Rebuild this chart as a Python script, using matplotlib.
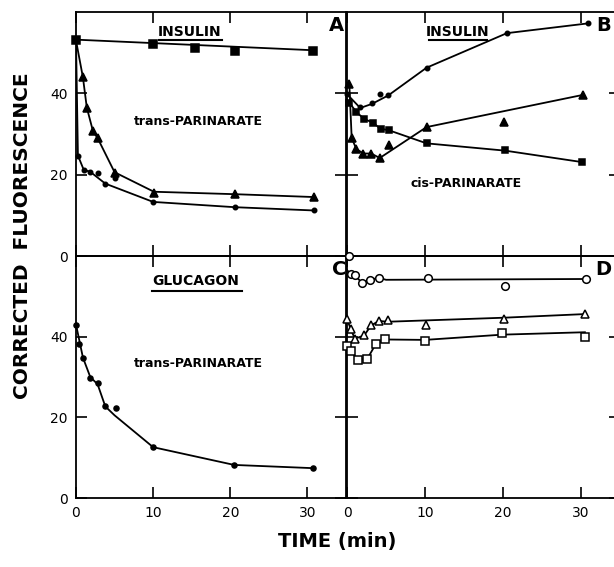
import matplotlib
matplotlib.use("Agg")
from matplotlib import pyplot as plt

plt.rcParams['font.family'] = ['DejaVu Sans']

# panel A: insulin, trans-parinarate
a_sq_t = [0, 10, 15.4, 20.6, 30.7]
a_sq_v = [53, 52.1, 51.1, 50.3, 50.4]
a_sq_line_t = [0, 30.7]
a_sq_line_v = [53.2, 50.6]

a_tri_t = [0.9, 1.4, 2.2, 2.8, 5.0, 10.1, 20.6, 30.8]
a_tri_v = [43.9, 36.5, 30.7, 29.0, 20.4, 15.6, 15.2, 14.5]
a_tri_line_t = [0, 0.9, 1.4, 2.2, 2.8, 5.0, 10.1, 20.6, 30.8]
a_tri_line_v = [53, 43.9, 36.5, 30.7, 29.0, 20.6, 15.8, 15.2, 14.5]

a_dot_t = [0.25, 1.0, 1.85, 2.9, 3.8, 5.0, 10, 20.6, 30.8]
a_dot_v = [24.7, 21.2, 20.7, 20.4, 17.8, 19.3, 13.3, 12.0, 11.2]
a_dot_line_t = [0, 0.25, 1.0, 1.85, 3.8, 10, 20.6, 30.8]
a_dot_line_v = [53, 24.7, 21.2, 20.7, 17.8, 13.3, 12.0, 11.2]

# panel B: insulin, cis-parinarate
b_dot_t = [0, 1.7, 3.2, 4.2, 5.3, 10.2, 20.5, 30.9]
b_dot_v = [39.8, 36.7, 37.7, 39.9, 39.5, 46.3, 54.8, 57.2]
b_dot_line_t = [0, 1.7, 3.2, 5.3, 10.2, 20.5, 30.9]
b_dot_line_v = [39.8, 36.4, 37.4, 39.5, 46.3, 54.8, 57.2]

b_sq_t = [0.2, 1.2, 2.2, 3.3, 4.3, 5.4, 10.2, 20.3, 30.1]
b_sq_v = [37.7, 35.4, 33.7, 32.8, 31.3, 30.9, 27.7, 26.0, 23.1]
b_sq_line_t = [0, 1.2, 2.2, 3.3, 4.3, 5.4, 10.2, 20.3, 30.1]
b_sq_line_v = [38.5, 35.4, 33.7, 32.8, 31.3, 30.9, 27.7, 25.9, 23.1]

b_tri_t = [0.3, 0.6, 1.2, 2.1, 3.1, 4.2, 5.4, 10.2, 20.1, 30.2]
b_tri_v = [42.2, 29.0, 26.3, 25.2, 25.2, 24.1, 27.2, 31.7, 32.9, 39.6]
b_tri_line_t = [0.3, 0.6, 1.2, 2.1, 3.1, 4.2, 10.2, 30.2]
b_tri_line_v = [42.2, 29.0, 26.3, 25.2, 25.2, 24.1, 31.7, 39.6]

# panel C: glucagon, trans-parinarate
c_t = [0, 0.45, 0.9, 1.85, 2.8, 3.8, 5.2, 10, 20.5, 30.7]
c_v = [43.0, 38.1, 34.8, 29.8, 28.4, 22.7, 22.3, 12.6, 8.2, 7.4]
c_line_t = [0, 0.9, 1.85, 2.8, 3.8, 5.0, 10, 20.5, 30.7]
c_line_v = [43.0, 34.8, 30.0, 28.2, 22.7, 20.5, 12.6, 8.2, 7.4]

# panel D: open symbols
d_circ_t = [0.3, 0.5, 1.0, 1.9, 2.9, 4.1, 10.4, 20.2, 30.7]
d_circ_v = [59.9, 55.5, 55.2, 53.4, 54.1, 54.6, 54.6, 52.6, 54.2]
d_circ_line_t = [0, 0.5, 1.0, 1.9, 2.9, 4.1, 5.0, 30.7]
d_circ_line_v = [56.5, 55.5, 55.2, 53.4, 54.1, 54.6, 54.1, 54.3]

d_tri_t = [0, 0.5, 1.0, 2.2, 3.1, 4.1, 5.2, 10.1, 20.1, 30.5]
d_tri_v = [44.3, 41.8, 39.5, 40.3, 42.8, 43.9, 44.1, 42.8, 44.5, 45.7]
d_tri_line_t = [0, 0.5, 1.0, 2.2, 3.1, 4.1, 5.2, 20.1, 30.5]
d_tri_line_v = [44.3, 41.8, 39.5, 40.3, 42.8, 43.9, 43.7, 44.7, 45.6]

d_sq_t = [0, 0.5, 1.4, 2.6, 3.7, 4.9, 10, 19.9, 30.5]
d_sq_v = [37.6, 36.4, 34.3, 34.5, 38.2, 39.3, 38.9, 40.8, 40.0]
d_sq_line_t = [0, 0.5, 1.4, 2.6, 3.7, 4.9, 10, 19.9, 30.5]
d_sq_line_v = [38.0, 36.4, 34.3, 34.5, 38.2, 39.3, 39.2, 40.5, 41.1]

xticks = [0, 10, 20, 30]
yticks = [0, 20, 40]

fig = plt.figure(figsize=(6.14, 5.67), dpi=100)
W, H = 614, 567
axA = fig.add_axes([76 / W, 1 - 256 / H, 270 / W, 244 / H])
axB = fig.add_axes([347 / W, 1 - 256 / H, 273 / W, 244 / H])
axC = fig.add_axes([76 / W, 1 - 498 / H, 270 / W, 242 / H])
axD = fig.add_axes([347 / W, 1 - 498 / H, 273 / W, 242 / H])

for ax in (axA, axB, axC, axD):
    ax.set_xlim(0, 35)
    ax.set_ylim(0, 60)
    ax.set_xticks(xticks)
    ax.set_yticks(yticks)
    ax.tick_params(direction='in', top=True, right=True, length=8, width=1.2,
                   labelsize=10, pad=6)
    for s in ax.spines.values():
        s.set_linewidth(1.3)
    ax.set_facecolor('none')

axA.tick_params(labelbottom=False)
axB.tick_params(labelbottom=False, labelleft=False)
axD.tick_params(labelleft=False)


def series(ax, t, v, lt, lv, marker, ms, face='k'):
    ax.plot(lt, lv, color='k', lw=1.3, zorder=2)
    ax.plot(t, v, ls='none', marker=marker, ms=ms, mfc=face, mec='k',
            mew=1.1, zorder=3, clip_on=False)


series(axA, a_sq_t, a_sq_v, a_sq_line_t, a_sq_line_v, 's', 5.5)
series(axA, a_tri_t, a_tri_v, a_tri_line_t, a_tri_line_v, '^', 6)
series(axA, a_dot_t, a_dot_v, a_dot_line_t, a_dot_line_v, 'o', 3.2)

series(axB, b_dot_t, b_dot_v, b_dot_line_t, b_dot_line_v, 'o', 3.2)
series(axB, b_sq_t, b_sq_v, b_sq_line_t, b_sq_line_v, 's', 5)
series(axB, b_tri_t, b_tri_v, b_tri_line_t, b_tri_line_v, '^', 5.5)

series(axC, c_t, c_v, c_line_t, c_line_v, 'o', 3.6)

series(axD, d_circ_t, d_circ_v, d_circ_line_t, d_circ_line_v, 'o', 5.5, 'white')
series(axD, d_tri_t, d_tri_v, d_tri_line_t, d_tri_line_v, '^', 6, 'white')
series(axD, d_sq_t, d_sq_v, d_sq_line_t, d_sq_line_v, 's', 5.5, 'white')

# panel titles and probe names
lab = dict(fontsize=10, fontweight='bold', ha='center', va='center')
axA.text(14.7, 55.0, 'INSULIN', **lab)
axA.plot([10.8, 18.9], [53.0, 53.0], color='k', lw=1.5)
axA.text(15.8, 33.1, 'trans-PARINARATE', fontsize=9, fontweight='bold',
         ha='center', va='center')

axB.text(14.2, 55.0, 'INSULIN', **lab)
axB.plot([10.5, 17.9], [53.2, 53.2], color='k', lw=1.5)
axB.text(15.3, 17.8, 'cis-PARINARATE', fontsize=9, fontweight='bold',
         ha='center', va='center')

axC.text(15.5, 53.7, 'GLUCAGON', **lab)
axC.plot([9.8, 21.5], [51.2, 51.2], color='k', lw=1.5)
axC.text(15.8, 33.3, 'trans-PARINARATE', fontsize=9, fontweight='bold',
         ha='center', va='center')

for ax, letter, x in ((axA, 'A', 0.965), (axB, 'B', 0.94),
                      (axC, 'C', 0.975), (axD, 'D', 0.94)):
    ax.text(x, 0.945, letter, transform=ax.transAxes, fontsize=14,
            fontweight='bold', ha='center', va='center')

fig.text(23 / W, 1 - 236 / H, 'CORRECTED  FLUORESCENCE', rotation=90,
         fontsize=14.5, fontweight='bold', ha='center', va='center')
fig.text(337 / W, 1 - 542 / H, 'TIME (min)', fontsize=14, fontweight='bold',
         ha='center', va='center')

fig.savefig('out.png', dpi=100)
